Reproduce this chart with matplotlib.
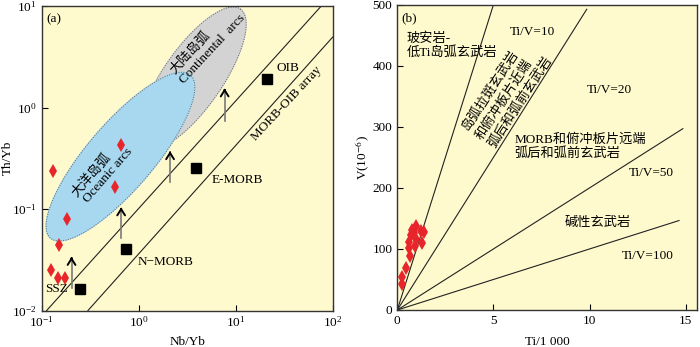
import numpy as np
import matplotlib
matplotlib.use("Agg")
import matplotlib.pyplot as plt

plt.rcParams['font.family'] = ['Liberation Serif', 'Noto Sans CJK SC', 'DejaVu Sans']
plt.rcParams['mathtext.fontset'] = 'stix'
plt.rcParams['axes.unicode_minus'] = True

# ---------------- data: panel (a) ----------------
samp_nb_yb = [0.132, 0.659, 0.576, 0.183, 0.150, 0.1245, 0.148, 0.173]
samp_th_yb = [0.238, 0.423, 0.163, 0.080, 0.0446, 0.0251, 0.0211, 0.0211]

ref_names = ['OIB', 'E-MORB', 'N-MORB', 'SSZ']
ref_nb_yb = [21.0, 3.86, 0.741, 0.247]
ref_th_yb = [1.92, 0.256, 0.040, 0.0164]

array_upper_x = [0.1125, 76.3]
array_upper_y = [0.01, 10.0]
array_lower_x = [0.300, 100.0]
array_lower_y = [0.01, 4.94]

arrow_x = [0.203, 0.659, 2.105, 7.69]
arrow_y0 = [0.0166, 0.0515, 0.184, 0.731]
arrow_y1 = [0.0338, 0.104, 0.372, 1.545]

# ellipses in log10 space: centre x, centre y, semi-major, semi-minor, angle
oceanic_ell = (-0.188, -0.484, 1.08, 0.335, 47.8)
continental_ell = (0.555, 0.290, 0.84, 0.30, 53.7)

# ---------------- data: panel (b) ----------------
ti_1000 = [0.25, 0.25, 0.44, 0.66, 0.62, 0.60, 0.72, 0.75, 0.95, 0.95, 0.92, 1.22, 1.40, 1.27, 0.85]
v_ppm = [42, 54, 68, 89, 101, 112, 123, 131, 138, 116, 105, 130, 128, 109, 126]

tiv_ratio = [10, 20, 50, 100]
tiv_end_x = [5.15, 9.85, 14.85, 14.65]

BG = '#FFFACD'
RED = '#E8252B'

fig = plt.figure(figsize=(7.0, 3.47), dpi=100)
axa = fig.add_axes([41.7/700, 36.5/347, 291/700, 304.5/347])
axb = fig.add_axes([397.3/700, 37/347, 300/700, 305.3/347])

FS = 9.5

def ell_pts(p, n=300):
    cx, cy, a, b, ang = p
    t = np.linspace(0, 2*np.pi, n)
    th = np.radians(ang)
    lx = cx + a*np.cos(t)*np.cos(th) - b*np.sin(t)*np.sin(th)
    ly = cy + a*np.cos(t)*np.sin(th) + b*np.sin(t)*np.cos(th)
    return 10**lx, 10**ly

# ---------------- panel (a) ----------------
ax = axa
ax.set_facecolor(BG)
ax.set_xscale('log'); ax.set_yscale('log')
ax.set_xlim(0.1, 100); ax.set_ylim(0.01, 10)

gx, gy = ell_pts(continental_ell)
ax.fill(gx, gy, color='#D3D3D3', zorder=1)
ax.plot(gx, gy, color='#666666', lw=0.7, ls=(0, (1, 1.5)), zorder=1.1)
bx, by = ell_pts(oceanic_ell)
ax.fill(bx, by, color='#A7D8F0', zorder=1.2)
ax.plot(bx, by, color='#666666', lw=0.7, ls=(0, (1, 1.5)), zorder=1.3)

ax.plot(array_upper_x, array_upper_y, color='#222222', lw=0.8, zorder=2)
ax.plot(array_lower_x, array_lower_y, color='#222222', lw=0.8, zorder=2)

for x, y0, y1 in zip(arrow_x, arrow_y0, arrow_y1):
    ax.plot([x, x], [y0, y1*0.97], color='#7a7a7a', lw=1.2, zorder=3)
    ax.annotate('', xy=(x, y1), xytext=(x, y1*0.95),
                arrowprops=dict(arrowstyle='->,head_length=0.45,head_width=0.28',
                                color='black', lw=1.4, shrinkA=0, shrinkB=0), zorder=4)

ax.plot(ref_nb_yb, ref_th_yb, 's', color='black', ms=6.5, zorder=5)
ax.plot(samp_nb_yb, samp_th_yb, 'd', color=RED, ms=7.5, mec=RED, mew=0, zorder=5)

ax.text(26.2, 2.43, 'OIB', fontsize=FS, ha='left', va='center')
ax.text(5.70, 0.194, 'E-MORB', fontsize=FS, ha='left', va='center')
ax.text(0.975, 0.0302, 'N\u2212MORB', fontsize=FS, ha='left', va='center')
ax.text(0.108, 0.01637, 'SSZ', fontsize=FS, ha='left', va='center')
ax.text(33.4, 1.10, 'MORB-OIB array', fontsize=FS, ha='center', va='center',
        rotation=47, rotation_mode='anchor')
ax.text(0.325, 0.216, '大洋岛弧', fontsize=FS, ha='center', va='center',
        rotation=49, rotation_mode='anchor')
ax.text(0.489, 0.214, 'Oceanic arcs', fontsize=FS, ha='center', va='center',
        rotation=49, rotation_mode='anchor')
ax.text(3.40, 3.52, '大陆岛弧', fontsize=FS, ha='center', va='center',
        rotation=47, rotation_mode='anchor')
ax.text(5.70, 3.75, 'Continental  arcs', fontsize=FS, ha='center', va='center',
        rotation=47, rotation_mode='anchor')
ax.text(0.017, 0.955, '(a)', transform=ax.transAxes, fontsize=FS, ha='left', va='center')

ax.set_xlabel('Nb/Yb', fontsize=FS)
ax.set_ylabel('Th/Yb', fontsize=FS)
ax.xaxis.set_label_coords(0.5, -0.085)
ax.yaxis.set_label_coords(-0.095, 0.5)
ax.tick_params(which='major', direction='in', length=4, labelsize=FS, top=False, right=False)
ax.tick_params(which='minor', length=0)
for s in ax.spines.values():
    s.set_color('#333333'); s.set_linewidth(1.0)

# ---------------- panel (b) ----------------
ax = axb
ax.set_facecolor(BG)
ax.set_xlim(0, 15.6); ax.set_ylim(0, 500)
for r, xe in zip(tiv_ratio, tiv_end_x):
    ax.plot([0, xe], [0, 1000*xe/r], color='#222222', lw=0.8, zorder=2)
ax.plot(ti_1000, v_ppm, 'd', color=RED, ms=7.5, mew=0, zorder=5)

ax.text(0.015, 0.955, '(b)', transform=ax.transAxes, fontsize=FS, ha='left', va='center')
ax.text(0.49, 433, '玻安岩-\n低Ti岛弧玄武岩', fontsize=FS, ha='left', va='center', linespacing=1.15)
ax.text(5.87, 455, 'Ti/V=10', fontsize=FS, ha='left', va='center')
ax.text(4.23, 281.6, '岛弧拉斑玄武岩\n和俯冲板片近端\n弧后和弧前玄武岩', fontsize=FS,
        ha='left', va='center', multialignment='left', rotation=57,
        rotation_mode='anchor', linespacing=1.3)
ax.text(9.86, 360.7, 'Ti/V=20', fontsize=FS, ha='left', va='center')
ax.text(6.08, 267, 'MORB和俯冲板片远端\n弧后和弧前玄武岩', fontsize=FS, ha='left', va='center',
        linespacing=1.15)
ax.text(12.03, 224.6, 'Ti/V=50', fontsize=FS, ha='left', va='center')
ax.text(8.68, 142, '碱性玄武岩', fontsize=FS, ha='left', va='center')
ax.text(11.69, 88.5, 'Ti/V=100', fontsize=FS, ha='left', va='center')

ax.set_xticks([0, 5, 10, 15])
ax.set_yticks([0, 100, 200, 300, 400, 500])
ax.set_xlabel('Ti/1 000', fontsize=FS)
ax.set_ylabel('V(10$^{-6}$)', fontsize=FS)
ax.xaxis.set_label_coords(0.5, -0.085)
ax.yaxis.set_label_coords(-0.085, 0.5)
ax.tick_params(direction='in', length=4, labelsize=FS, top=False, right=False)
for s in ax.spines.values():
    s.set_color('#333333'); s.set_linewidth(1.0)

fig.savefig('out.png', dpi=100)
